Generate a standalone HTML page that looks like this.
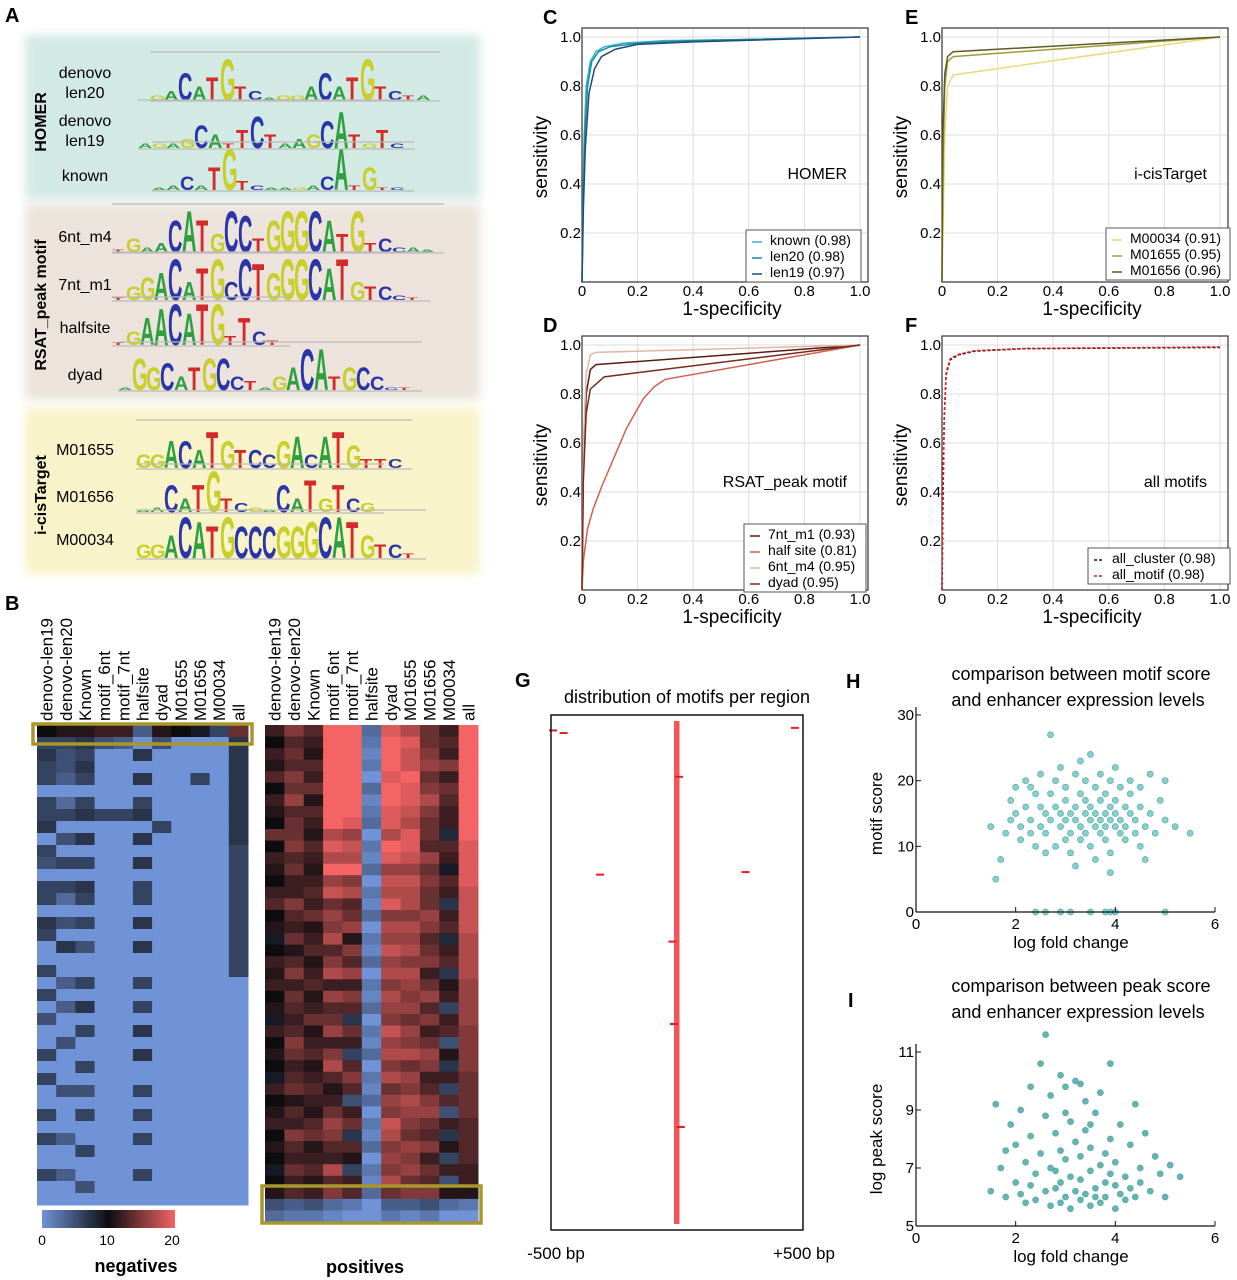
<!DOCTYPE html>
<html><head><meta charset="utf-8">
<style>
html,body{margin:0;padding:0;background:#fff;}
svg{display:block;font-family:"Liberation Sans",sans-serif;}
</style></head>
<body>
<svg id="fig" width="1237" height="1280" viewBox="0 0 1237 1280" xmlns="http://www.w3.org/2000/svg">
<defs>
<filter id="blur" x="-5%" y="-5%" width="110%" height="110%"><feGaussianBlur stdDeviation="5"/></filter>
<linearGradient id="cbar" x1="0" x2="1" y1="0" y2="0">
<stop offset="0" stop-color="#6f93d6"/><stop offset="0.5" stop-color="#0d0d10"/><stop offset="1" stop-color="#f46464"/>
</linearGradient>
</defs>
<g>
<rect x="25" y="35" width="455" height="165" fill="#d3e9e3" filter="url(#blur)"/>
<rect x="25" y="204" width="455" height="196" fill="#ebe3dc" filter="url(#blur)"/>
<rect x="25" y="408" width="455" height="166" fill="#f8f3c8" filter="url(#blur)"/>
<text x="46" y="122" transform="rotate(-90 46 122)" text-anchor="middle" font-weight="bold" font-size="16">HOMER</text>
<text x="46" y="305" transform="rotate(-90 46 305)" text-anchor="middle" font-weight="bold" font-size="16">RSAT_peak motif</text>
<text x="46" y="495" transform="rotate(-90 46 495)" text-anchor="middle" font-weight="bold" font-size="16">i-cisTarget</text>
<g id="logos"></g>
</g>
<g id="panelB"></g>
<g id="rocs"></g>
<g id="panelG"></g>
<g id="scatters"></g>
<g font-weight="bold" font-size="20">
<text x="5" y="22">A</text>
<text x="5" y="610">B</text>
<text x="543" y="24">C</text>
<text x="543" y="332">D</text>
<text x="905" y="24">E</text>
<text x="905" y="332">F</text>
<text x="515" y="687">G</text>
<text x="846" y="688">H</text>
<text x="848" y="1007">I</text>
</g>
</svg>
<script>
const NS='http://www.w3.org/2000/svg';
function mk(tag,attrs,parent){const e=document.createElementNS(NS,tag);for(const k in attrs)e.setAttribute(k,attrs[k]);parent.appendChild(e);return e;}

/* ---------- Panel A: motif logos ---------- */
const motifNames=['denovo\nlen20','denovo\nlen19','known','6nt_m4','7nt_m1','halfsite','dyad','M01655','M01656','M00034'];
const motifSeqs=['GACATGTCAGGACATGTCTA','AGAGCATTCTAAGCATGTC','AACATGTCAAGACATGTC','TGAACATGCCTGGGCATGTCCAA','TGGACATGCCTGGGCATGTCCT','TGAACATGTTCT','AGGCATGCCTAGACATGCCCT','GGACATGTCCGACATGTTC','AACATGTCGACATGTCG','GGACATGCCCGGGCATGTCT'];
const motifHeights=['12635932011363593211','11125314731236831410','01315921000139150000','03127974983799974923110','03569479498699979433100','03689799263100','07563577320359935530','33664864436737852220','01636932106373632100','33598797777789985331'];
const logoX=[150,138,152,112,112,112,118,136,136,136];
const logoBase=[100,148,190,252,300,345,390,468,512,558];
const labelY=[72,120,175,236,284,327,374,449,496,539];
const colors={A:'#2ea040',C:'#2a36a8',G:'#c8cf2a',T:'#d42a2a'};
const logos=document.getElementById('logos');
for(let m=0;m<motifSeqs.length;m++){
  const ln=mk('line',{x1:logoX[m],x2:logoX[m]+motifSeqs[m].length*14+10,y1:logoBase[m]-48,y2:logoBase[m]-48,stroke:'#bbb','stroke-width':1.2},logos);
  
  
  const ln2=mk('line',{x1:logoX[m],x2:logoX[m]+motifSeqs[m].length*14+10,y1:logoBase[m]+1,y2:logoBase[m]+1,stroke:'#bbb','stroke-width':1.2},logos);
  
  
  const lines=motifNames[m].split('\n');
  lines.forEach((t,i)=>{
    const tx=mk('text',{x:85,y:labelY[m]+i*20+6,'text-anchor':'middle','font-size':16},logos);
    tx.textContent=t;
    
    
  });
  for(let i=0;i<motifSeqs[m].length;i++){
    const ch=motifSeqs[m][i];const h=Math.max(0.6,parseInt(motifHeights[m][i]||'0'))*4.7;
    const x=logoX[m]+i*14;
    const t=mk('text',{transform:`translate(${x},${logoBase[m]}) scale(1.0,${h/14.4})`,'font-size':20,'font-weight':'bold',fill:colors[ch]},logos);
    t.textContent=ch;
    
    
  }
}

/* ---------- Panel B: heatmaps ---------- */
const heatCols=['denovo-len19','denovo-len20','Known','motif_6nt','motif_7nt','halfsite','dyad','M01655','M01656','M00034','all'];
const negData=['a676606670650660760060605006060060600600','b655403605060630507004040050005000400400','b767606707060760605006070600605060060050','c500000600000000000000000000000000000000','c400000600000000000000000000000000000000','4070706707070660707006060707006060600600','b500000060000000000000000000000000000000','a000000000000000000000000000000000000000','9000600000000000000000000000000000000000','6000000000000000000000000000000000000000','e777777777666666666660000000000000000000'];
const posData=['cacbdacbaeacbacdab9acbcab9caba9cabcaba9ab53','fdedfegdeefdeccfdcebdfcedcdfecdebdcfdcecd42','dcbdcebdcbdcbcdcebcdbcdbcebcdbcdcbdebcdbc52','kkkkkkkkkhjhkgiegfhdfhcgdegcfhdbcegfdchdf31','kkkkkkkkjgihkfhdegbfdgcfd7ec6dfd5ce7db6cd20','3212031230213021302130213021302130213021300','jkkkjkkjjhkjgihjfhgighfhgfighfhegfihfgfhe42','hjiikjjihjjigihhfhghfhgfgegfhegfhgfegfgef41','eefgefhfeedgefeegfdefcegdfcegfcdfgedfcedf52','cdcfcedcc8dc9dc7cd8cd7bc6cd5b7c6d5c7b6c5b30','kkkkkkkkkkjjjjiiiihhhhggggffffeeeeddddccb20'];
const cbTicks=[0,10,20];
function cmap(v){const b=[111,147,214],k=[13,13,16],r=[244,100,100];let a,c,t;if(v<=10){a=b;c=k;t=v/10;}else{a=k;c=r;t=(v-10)/10;}return `rgb(${a.map((x,i)=>Math.round(x+(c[i]-x)*t)).join(',')})`;}
const B=document.getElementById('panelB');
function heat(data,x0,y0,w,h,name){
  const g=mk('g',{},B);
  
  
  const cw=w/data.length;
  data.forEach((s,ci)=>{
    const rh=h/s.length;
    for(let r=0;r<s.length;r++){
      const v=parseInt(s[r],36);
      const rc=mk('rect',{x:x0+ci*cw,y:y0+r*rh,width:cw+0.5,height:rh+0.5,fill:cmap(v)},g);
      
      
    }
    const lx=x0+ci*cw+cw/2+6;
    const lb=mk('text',{x:lx,y:y0-4,transform:`rotate(-90 ${lx} ${y0-4})`,'font-size':17},g);
    lb.textContent=heatCols[ci];
    
    
  });
}
heat(negData,37,725,211,480,'negatives-heatmap');
heat(posData,265,725,213,497,'positives-heatmap');
let bx=mk('rect',{x:33,y:724,width:219,height:20,fill:'none',stroke:'#a8982c','stroke-width':3.5},B);


bx=mk('rect',{x:262,y:1186,width:219,height:37,fill:'none',stroke:'#a8982c','stroke-width':3.5},B);


const cb=mk('rect',{x:42,y:1210,width:133,height:18,fill:'url(#cbar)'},B);


cbTicks.forEach(t=>{
  const x=42+t/20*130;
  const tx=mk('text',{x:x,y:1245,'text-anchor':'middle','font-size':14},B);
  tx.textContent=t;
  
  
});
let tl=mk('text',{x:136,y:1272,'text-anchor':'middle','font-size':18,'font-weight':'bold'},B);
tl.textContent='negatives';


tl=mk('text',{x:365,y:1273,'text-anchor':'middle','font-size':18,'font-weight':'bold'},B);
tl.textContent='positives';



/* ---------- ROC panels ---------- */
const rocTicks=[0,0.2,0.4,0.6,0.8,1.0];
const homerNames=['known (0.98)','len20 (0.98)','len19 (0.97)'];
const homerKnown=[[0,0],[0.003,0.3],[0.008,0.6],[0.015,0.8],[0.03,0.9],[0.05,0.94],[0.08,0.96],[0.15,0.975],[0.3,0.985],[0.6,0.99],[1,1]];
const homerLen20=[[0,0],[0.004,0.3],[0.01,0.6],[0.02,0.8],[0.035,0.9],[0.06,0.94],[0.1,0.96],[0.2,0.975],[0.4,0.985],[1,1]];
const homerLen19=[[0,0],[0.005,0.3],[0.012,0.55],[0.025,0.77],[0.045,0.87],[0.07,0.92],[0.12,0.95],[0.2,0.97],[0.4,0.98],[1,1]];
const icisNames=['M00034 (0.91)','M01655 (0.95)','M01656 (0.96)'];
const icisM00034=[[0,0],[0.005,0.3],[0.01,0.6],[0.02,0.8],[0.04,0.845],[1,1]];
const icisM01655=[[0,0],[0.004,0.5],[0.01,0.8],[0.02,0.9],[0.04,0.92],[1,1]];
const icisM01656=[[0,0],[0.003,0.6],[0.01,0.85],[0.02,0.92],[0.04,0.94],[1,1]];
const rsatNames=['7nt_m1 (0.93)','half site (0.81)','6nt_m4 (0.95)','dyad (0.95)'];
const rsat7nt=[[0,0],[0.005,0.5],[0.015,0.8],[0.03,0.9],[0.05,0.92],[1,1]];
const rsatHalf=[[0,0],[0.005,0.12],[0.02,0.25],[0.04,0.33],[0.07,0.42],[0.1,0.5],[0.13,0.58],[0.16,0.66],[0.19,0.72],[0.22,0.78],[0.26,0.83],[0.3,0.86],[1,1]];
const rsat6nt=[[0,0],[0.005,0.6],[0.015,0.88],[0.03,0.96],[0.05,0.97],[1,1]];
const rsatDyad=[[0,0],[0.005,0.45],[0.015,0.72],[0.03,0.82],[0.08,0.87],[1,1]];
const allNames=['all_cluster (0.98)','all_motif (0.98)'];
const allCluster=[[0,0],[0.004,0.4],[0.008,0.7],[0.015,0.88],[0.03,0.94],[0.06,0.96],[0.12,0.975],[0.3,0.985],[1,0.99]];
const allMotif=[[0,0],[0.004,0.42],[0.008,0.71],[0.015,0.89],[0.03,0.945],[0.06,0.962],[0.12,0.977],[0.3,0.986],[1,0.992]];
const R=document.getElementById('rocs');
function roc(px,py,label,series,names,cols,dashes,legW,legX,legY){
  const g=mk('g',{},R);
  
  
  const W=278,H=245;
  const sx=v=>px+v*W, sy=v=>py-v*H;
  rocTicks.forEach(t=>{
    const gl=mk('line',{x1:sx(t),x2:sx(t),y1:py,y2:py-254,stroke:'#ddd'},g);
    
    
    const gh=mk('line',{x1:px,x2:px+286,y1:sy(t),y2:sy(t),stroke:'#ddd'},g);
    
    
    const xt=mk('text',{x:sx(t),y:py+14,'text-anchor':'middle','font-size':15},g);
    xt.textContent=t===0?'0':t.toFixed(1);
    
    
    if(t>0){const yt=mk('text',{x:px-1,y:sy(t)+5,'text-anchor':'end','font-size':15},g);
    yt.textContent=t.toFixed(1);
    
    }
  });
  const fr=mk('rect',{x:px,y:py-254,width:286,height:254,fill:'none',stroke:'#333','stroke-width':1.2},g);
  
  
  series.forEach((s,i)=>{
    const p=mk('polyline',{points:s.map(d=>sx(d[0])+','+sy(d[1])).join(' '),fill:'none',stroke:cols[i],'stroke-width':1.5,'stroke-dasharray':dashes[i]},g);
    
    
  });
  const xl=mk('text',{x:px+150,y:py+33,'text-anchor':'middle','font-size':19},g);
  xl.textContent='1-specificity';
  
  
  const ylx=px-35,yly=py-125;
  const yl=mk('text',{x:ylx,y:yly,transform:`rotate(-90 ${ylx} ${yly})`,'text-anchor':'middle','font-size':19},g);
  yl.textContent='sensitivity';
  
  
  const pl=mk('text',{x:px+265,y:py-103,'text-anchor':'end','font-size':16},g);
  pl.textContent=label;
  
  
  const lh=names.length*16+4;
  const lg=mk('rect',{x:legX,y:legY,width:legW,height:lh,fill:'#fff',stroke:'#555'},g);
  
  
  names.forEach((n,i)=>{
    const ll=mk('line',{x1:legX+6,x2:legX+16,y1:legY+12+i*16,y2:legY+12+i*16,stroke:cols[i],'stroke-width':1.5,'stroke-dasharray':dashes[i]},g);
    
    
    const lt=mk('text',{x:legX+24,y:legY+15+i*16,'font-size':14},g);
    lt.textContent=n;
    
    
  });
}
roc(582,282,'HOMER',[homerKnown,homerLen20,homerLen19],homerNames,['#2fb4c8','#1a8a9e','#1f4d78'],['','',''],115,746,230);
roc(942,282,'i-cisTarget',[icisM00034,icisM01655,icisM01656],icisNames,['#e6da7a','#a09a3a','#5e5c22'],['','',''],124,1106,228);
roc(582,590,'RSAT_peak motif',[rsat7nt,rsatHalf,rsat6nt,rsatDyad],rsatNames,['#5a1d12','#d0604e','#e2b4a4','#7a2a1a'],['','','',''],122,744,524);
roc(942,590,'all motifs',[allCluster,allMotif],allNames,['#111','#e0201e'],['3,2','3,2'],142,1088,548);

/* ---------- Panel G ---------- */
const motifPosBp=[-492,-450,-305,272,468,-18,8,-12,15];
const motifRowFrac=[0.03,0.035,0.31,0.305,0.025,0.44,0.12,0.6,0.8];
const G=document.getElementById('panelG');
const gx0=551,gx1=803,gy0=715,gy1=1230;
const bpX=v=>gx0+(v+500)/1000*(gx1-gx0);
let el=mk('text',{x:687,y:703,'text-anchor':'middle','font-size':18},G);
el.textContent='distribution of motifs per region';


el=mk('rect',{x:bpX(-12),y:gy0+6,width:bpX(10)-bpX(-12),height:gy1-gy0-12,fill:'#f03838',opacity:0.85},G);


motifPosBp.forEach((v,i)=>{
  const y=gy0+motifRowFrac[i]*(gy1-gy0);
  const m=mk('line',{x1:bpX(v)-4,x2:bpX(v)+4,y1:y,y2:y,stroke:'#e02020','stroke-width':2},G);
  
  
});
el=mk('rect',{x:gx0,y:gy0,width:gx1-gx0,height:gy1-gy0,fill:'none',stroke:'#111','stroke-width':1.5},G);


el=mk('text',{x:556,y:1259,'text-anchor':'middle','font-size':17},G);
el.textContent='-500 bp';


el=mk('text',{x:804,y:1259,'text-anchor':'middle','font-size':17},G);
el.textContent='+500 bp';



/* ---------- Scatter panels ---------- */
const hX=[1.6,1.7,1.8,1.9,2.0,2.0,2.1,2.1,2.2,2.2,2.3,2.3,2.4,2.4,2.5,2.5,2.5,2.6,2.6,2.7,2.7,2.7,2.8,2.8,2.8,2.9,2.9,2.9,3.0,3.0,3.0,3.0,3.1,3.1,3.1,3.2,3.2,3.2,3.3,3.3,3.3,3.4,3.4,3.4,3.4,3.5,3.5,3.5,3.5,3.6,3.6,3.6,3.6,3.7,3.7,3.7,3.7,3.8,3.8,3.8,3.8,3.9,3.9,3.9,3.9,4.0,4.0,4.0,4.0,4.1,4.1,4.1,4.2,4.2,4.2,4.3,4.3,4.3,4.4,4.4,4.5,4.5,4.5,4.6,4.7,4.7,4.8,4.9,5.0,5.0,5.2,5.5,1.5,1.9,2.3,2.6,3.2,3.9,4.6,3.3,2.4,2.6,2.9,3.1,3.5,3.8,3.9,4.0,5.0];
const hY=[5,8,12,14,15,19,11,13,16,20,12,14,18,10,13,16,21,15,12,27,18,14,10,16,20,13,15,22,11,14,17,19,12,15,9,14,16,21,13,18,11,15,12,20,17,14,16,10,24,13,15,19,8,14,17,12,21,15,13,18,11,14,16,20,9,13,15,17,22,12,14,19,16,11,13,15,18,20,14,12,16,10,19,13,15,21,12,17,14,20,13,12,13,17,19,9,7,6,8,23,0,0,0,0,0,0,0,0,0];
const hXTicks=[0,2,4,6];
const hYTicks=[0,10,20,30];
const iX=[1.5,1.6,1.7,1.8,1.9,2.0,2.0,2.1,2.1,2.2,2.2,2.3,2.3,2.4,2.4,2.5,2.5,2.6,2.6,2.6,2.7,2.7,2.7,2.8,2.8,2.8,2.9,2.9,2.9,3.0,3.0,3.0,3.1,3.1,3.1,3.2,3.2,3.2,3.3,3.3,3.3,3.4,3.4,3.4,3.5,3.5,3.5,3.6,3.6,3.6,3.7,3.7,3.7,3.8,3.8,3.8,3.9,3.9,3.9,4.0,4.0,4.0,4.1,4.1,4.2,4.2,4.3,4.3,4.4,4.4,4.5,4.5,4.6,4.7,4.8,4.9,5.0,5.1,5.3,1.8,2.3,3.0,3.5,3.3,2.9];
const iY=[6.2,9.2,7.0,6.0,8.5,6.5,7.8,6.1,9.0,5.8,7.2,6.4,8.1,5.9,6.8,10.6,7.5,6.2,11.6,8.8,5.7,7.0,9.5,6.3,6.9,8.2,5.8,7.6,6.5,6.0,7.3,9.8,5.6,6.7,8.6,6.2,7.9,10.0,5.9,6.6,7.4,6.1,8.3,9.3,5.7,6.9,7.7,6.3,6.0,8.9,5.8,7.1,9.6,6.5,7.5,6.0,10.6,6.8,8.0,5.6,6.4,7.2,6.1,8.5,6.7,5.9,7.8,6.3,9.2,6.0,7.0,6.5,8.2,6.2,7.4,6.8,6.0,7.1,6.7,7.6,9.8,8.9,8.5,9.9,10.2];
const iXTicks=[0,2,4,6];
const iYTicks=[5,7,9,11];
const S=document.getElementById('scatters');
function scatter(name,xs,ys,xT,yT,ymin,ymax,x0,x1,y0,y1,yTitle,t1,t2,fill,titleY){
  const g=mk('g',{},S);
  
  
  const sx=v=>x0+v/6*(x1-x0), sy=v=>y0-(v-ymin)/(ymax-ymin)*(y0-y1);
  xs.forEach((x,i)=>{
    const c=mk('circle',{cx:sx(x),cy:sy(ys[i]),r:3,fill:fill,stroke:'#3a9a96','stroke-width':0.7,opacity:0.85},g);
    
    
  });
  let a=mk('line',{x1:x0,x2:x1,y1:y0,y2:y0,stroke:'#111','stroke-width':1.2},g);
  
  
  a=mk('line',{x1:x0,x2:x0,y1:y0,y2:y1-8,stroke:'#111','stroke-width':1.2},g);
  
  
  xT.forEach(t=>{
    const tk=mk('line',{x1:sx(t),x2:sx(t),y1:y0,y2:y0-5,stroke:'#111'},g);
    
    
    const tx=mk('text',{x:sx(t),y:y0+17,'text-anchor':'middle','font-size':15},g);
    tx.textContent=t;
    
    
  });
  yT.forEach(t=>{
    const tk=mk('line',{x1:x0,x2:x0+5,y1:sy(t),y2:sy(t),stroke:'#111'},g);
    
    
    const tx=mk('text',{x:x0-2,y:sy(t)+5,'text-anchor':'end','font-size':15},g);
    tx.textContent=t;
    
    
  });
  let t=mk('text',{x:1071,y:y0+36,'text-anchor':'middle','font-size':17},g);
  t.textContent='log fold change';
  
  
  const yx=x0-34,yy=(y0+y1)/2;
  t=mk('text',{x:yx,y:yy,transform:`rotate(-90 ${yx} ${yy})`,'text-anchor':'middle','font-size':17},g);
  t.textContent=yTitle;
  
  
  t=mk('text',{x:1081,y:titleY,'text-anchor':'middle','font-size':18},g);
  t.textContent=t1;
  
  
  t=mk('text',{x:1078,y:titleY+26,'text-anchor':'middle','font-size':18},g);
  t.textContent=t2;
  
  
}
scatter('motif-score-scatter',hX,hY,hXTicks,hYTicks,0,30,916,1215,912,715,'motif score','comparison between motif score','and enhancer expression levels','#6fcac6',680);
scatter('peak-score-scatter',iX,iY,iXTicks,iYTicks,5,11,916,1215,1226,1052,'log peak score','comparison between peak score','and enhancer expression levels','#49a9a4',992);
</script>
</body></html>
